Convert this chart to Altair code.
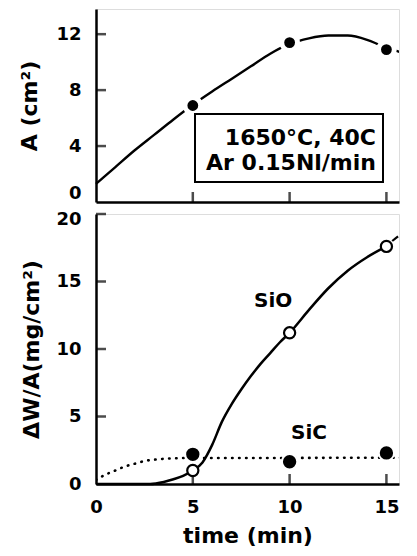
import altair as alt
import pandas as pd

FONT = "DejaVu Sans"

# ---------------- data ----------------
# top panel: surface area A (cm2) vs time
time_pts = [5, 10, 15]
area_pts = [6.9, 11.4, 10.9]
area_curve_t = [0, 1, 2, 3, 4, 5, 6, 7, 8, 9, 10, 11, 12, 13, 14, 15]
area_curve_v = [1.3, 2.5, 3.7, 4.8, 5.9, 6.95, 7.9, 8.8, 9.7, 10.6, 11.3, 11.7, 11.9, 11.9, 11.6, 11.0]
area_tail_t = [15.45, 15.85]
area_tail_v = [10.85, 10.65]

# bottom panel: weight loss per area
sio_pts = [1.0, 11.2, 17.6]
sic_pts = [2.2, 1.65, 2.3]
sio_curve_t = [0, 1, 2, 2.8, 3.5, 4, 4.5, 5, 5.5, 6, 6.5, 7, 7.5, 8, 8.5, 9, 9.5, 10, 11, 12, 13, 14, 15]
sio_curve_v = [0, 0, 0, 0, 0.15, 0.35, 0.6, 1.0, 1.6, 2.9, 4.6, 5.9, 7.0, 8.0, 8.9, 9.7, 10.5, 11.2, 12.9, 14.5, 15.8, 16.8, 17.6]
sio_tail_t = [15.3, 15.6]
sio_tail_v = [18.0, 18.35]
sic_curve_t = [0, 0.5, 1, 1.5, 2, 2.5, 3, 4, 5, 8, 10, 12, 15, 15.8]
sic_curve_v = [0.3, 0.7, 1.0, 1.3, 1.5, 1.7, 1.8, 1.9, 1.93, 1.93, 1.93, 1.94, 1.95, 1.95]

series_labels = ["SiO", "SiC"]
label_t = [9.15, 11.0]
label_v = [13.55, 3.8]

box_lines = ["1650°C, 40C", "Ar 0.15Nl/min"]

x_ticks = [0, 5, 10, 15]
top_y_ticks = [0, 4, 8, 12]
bot_y_ticks = [0, 5, 10, 15, 20]
x_domain = [0, 15.65]
top_y_domain = [0, 13.8]
bot_y_domain = [0, 20]

W = 303
H_TOP = 193
H_BOT = 270

# ---------------- frames ----------------
df_area_pts = pd.DataFrame({"t": time_pts, "v": area_pts})
df_area_curve = pd.DataFrame({"t": area_curve_t, "v": area_curve_v})
df_area_tail = pd.DataFrame({"t": area_tail_t, "v": area_tail_v})
df_sio_pts = pd.DataFrame({"t": time_pts, "v": sio_pts})
df_sic_pts = pd.DataFrame({"t": time_pts, "v": sic_pts})
df_sio_curve = pd.DataFrame({"t": sio_curve_t, "v": sio_curve_v})
df_sio_tail = pd.DataFrame({"t": sio_tail_t, "v": sio_tail_v})
df_sic_curve = pd.DataFrame({"t": sic_curve_t, "v": sic_curve_v})
df_labels = pd.DataFrame({"t": label_t, "v": label_v, "s": series_labels})
df_box = pd.DataFrame({"txt": ["\n".join(box_lines)]})
df_xt = pd.DataFrame({"t": [v for v in x_ticks if v > 0]})
df_yt_top = pd.DataFrame({"v": [v for v in top_y_ticks if v > 0]})
df_yt_bot = pd.DataFrame({"v": [v for v in bot_y_ticks if v > 0]})

xscale = alt.Scale(domain=x_domain, nice=False, zero=False)
yscale_top = alt.Scale(domain=top_y_domain, nice=False)
yscale_bot = alt.Scale(domain=bot_y_domain, nice=False)

ax_common = dict(grid=False, ticks=False, domainColor="black", domainWidth=2.5,
                 labelFont=FONT, labelFontSize=18, labelFontWeight="bold", labelColor="black",
                 titleFont=FONT, titleFontSize=22, titleFontWeight="bold", titleColor="black")

X_top = alt.X("t:Q", scale=xscale,
              axis=alt.Axis(values=x_ticks, labels=False, title=None, **ax_common))
Y_top = alt.Y("v:Q", scale=yscale_top,
              axis=alt.Axis(values=top_y_ticks, title="A (cm²)", labelPadding=15,
                            titlePadding=14, labelFlush=True, **ax_common))
X_bot = alt.X("t:Q", scale=xscale,
              axis=alt.Axis(values=x_ticks, title="time (min)", labelPadding=14,
                            titlePadding=9, labelFlush=False, **ax_common))
Y_bot = alt.Y("v:Q", scale=yscale_bot,
              axis=alt.Axis(values=bot_y_ticks, title="ΔW/A(mg/cm²)", labelPadding=15,
                            titlePadding=12, labelFlush=False,
                            labelOffset={"condition": {"test": "datum.value == 20", "value": 5}, "value": 0},
                            **ax_common))

# ---------------- top panel ----------------
top_line = alt.Chart(df_area_curve).mark_line(color="black", strokeWidth=2.4, interpolate="monotone").encode(
    x=X_top, y=Y_top)
top_tail = alt.Chart(df_area_tail).mark_line(color="black", strokeWidth=2.4, clip=True).encode(x=X_top, y=Y_top)
top_pts = alt.Chart(df_area_pts).mark_point(shape="circle", filled=True, fill="black", stroke="white",
                                            strokeWidth=5, size=250, opacity=1).encode(x=X_top, y=Y_top)
top_xt = alt.Chart(df_xt).mark_tick(orient="vertical", color="black", thickness=2.5, size=10).encode(
    x=X_top, y=alt.value(H_TOP - 5))
top_yt = alt.Chart(df_yt_top).mark_tick(orient="horizontal", color="black", thickness=2.5, size=10).encode(
    y=alt.Y("v:Q", scale=yscale_top), x=alt.value(5))
box = alt.Chart(df_box).mark_rect(fill="white", stroke="black", strokeWidth=2).encode(
    x=alt.value(99), x2=alt.value(287), y=alt.value(105), y2=alt.value(173))
box_text = alt.Chart(df_box).mark_text(align="right", baseline="middle", font=FONT, fontSize=22,
                                       fontWeight="bold", lineBreak="\n", lineHeight=25,
                                       color="black").encode(
    x=alt.value(280), y=alt.value(129), text="txt:N")

top = alt.layer(top_line, top_tail, top_pts, top_xt, top_yt, box, box_text).properties(
    width=W, height=H_TOP)

# ---------------- bottom panel ----------------
sic_line = alt.Chart(df_sic_curve).mark_line(color="black", strokeWidth=2.6, strokeDash=[0.5, 6.5],
                                             strokeCap="round", interpolate="monotone",
                                             clip=True).encode(x=X_bot, y=Y_bot)
sio_line = alt.Chart(df_sio_curve).mark_line(color="black", strokeWidth=2.5, interpolate="monotone").encode(
    x=X_bot, y=Y_bot)
sio_tail = alt.Chart(df_sio_tail).mark_line(color="black", strokeWidth=2.2, clip=True).encode(x=X_bot, y=Y_bot)
sic_p = alt.Chart(df_sic_pts).mark_point(shape="circle", filled=True, fill="black", stroke="white",
                                         strokeWidth=2, size=235, opacity=1).encode(x=X_bot, y=Y_bot)
sio_p = alt.Chart(df_sio_pts).mark_point(shape="circle", filled=True, fill="white", stroke="black",
                                         strokeWidth=2.2, size=125, opacity=1).encode(x=X_bot, y=Y_bot)
bot_xt = alt.Chart(df_xt).mark_tick(orient="vertical", color="black", thickness=2.5, size=10).encode(
    x=X_bot, y=alt.value(H_BOT - 5))
bot_yt = alt.Chart(df_yt_bot).mark_tick(orient="horizontal", color="black", thickness=2.5, size=10).encode(
    y=alt.Y("v:Q", scale=yscale_bot), x=alt.value(5))
labels = alt.Chart(df_labels).mark_text(font=FONT, fontSize=20, fontWeight="bold", color="black").encode(
    x=X_bot, y=Y_bot, text="s:N")

bottom = alt.layer(sic_line, sio_line, sio_tail, bot_xt, bot_yt, sic_p, sio_p, labels).properties(
    width=W, height=H_BOT)

chart = alt.vconcat(top, bottom, spacing=12, bounds="flush").properties(
    padding={"left": 10, "top": 0, "right": 0, "bottom": 0}
).configure_view(stroke=None).configure(background="white")

chart.save("out.html", embed_options={"renderer": "svg", "actions": False})
